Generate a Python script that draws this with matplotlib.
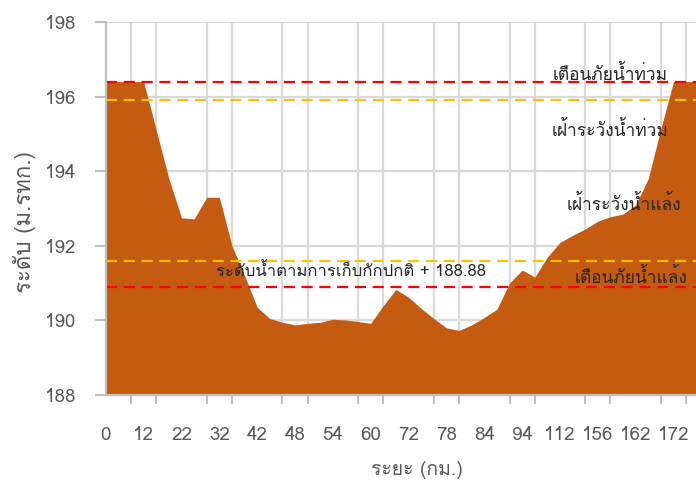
import matplotlib
matplotlib.use('Agg')
import matplotlib.pyplot as plt
from matplotlib import font_manager
from matplotlib.ft2font import FT2Font
from matplotlib.ticker import MultipleLocator, FixedLocator

# river bed profile (one value per cross-section)
bed_level = [196.4, 196.4, 196.4, 196.4, 195.1, 193.8, 192.75, 192.72, 193.3, 193.3,
             192.0, 191.2, 190.35, 190.05, 189.95, 189.88, 189.92, 189.95, 190.03, 190.01,
             189.97, 189.92, 190.4, 190.83, 190.62, 190.32, 190.05, 189.8, 189.73, 189.88,
             190.08, 190.3, 191.0, 191.35, 191.16, 191.7, 192.09, 192.28, 192.45, 192.66,
             192.78, 192.85, 193.1, 193.8, 195.15, 196.4, 196.4, 196.4]
tick_labels = ['0', '12', '22', '32', '42', '48', '54', '60', '72', '78', '84', '94',
               '112', '156', '162', '172']

flood_warning = 196.4
flood_watch = 195.9
drought_watch = 191.6
drought_warning = 190.9

lbl_flood_warning = 'เตือนภัยน้ำท่วม'
lbl_flood_watch = 'เฝ้าระวังน้ำท่วม'
lbl_drought_watch = 'เฝ้าระวังน้ำแล้ง'
lbl_drought_warning = 'เตือนภัยน้ำแล้ง'
lbl_normal = 'ระดับน้ำตามการเก็บกักปกติ + 188.88'


def find_thai_font():
    for f in font_manager.fontManager.ttflist:
        try:
            if 0x0E01 in FT2Font(f.fname).get_charmap():
                return f.name
        except Exception:
            pass
    return None


thai = find_thai_font()
fams = [thai, 'DejaVu Sans'] if thai else ['DejaVu Sans']
plt.rcParams['font.family'] = fams

fig = plt.figure(figsize=(6.96, 4.82), dpi=100)
ax = fig.add_axes([0.152, 0.1805, 0.848, 0.774])

x = list(range(len(bed_level)))
ax.fill_between(x, 188, bed_level, color='#C55A11', lw=0, zorder=2)

ax.axhline(flood_warning, color='#FF0000', lw=1.6, ls=(0, (5, 3)), zorder=3)
ax.axhline(flood_watch, color='#FFC000', lw=1.6, ls=(0, (5, 3)), zorder=3)
ax.axhline(drought_watch, color='#FFC000', lw=1.6, ls=(0, (5, 3)), zorder=3)
ax.axhline(drought_warning, color='#FF0000', lw=1.6, ls=(0, (5, 3)), zorder=3)

txt = dict(color='#262626', fontsize=12.5, ha='right', va='center', zorder=4)
ax.text(44.5, 196.6, lbl_flood_warning, **txt)
ax.text(44.6, 195.1, lbl_flood_watch, **txt)
ax.text(45.6, 193.1, lbl_drought_watch, **txt)
ax.text(46.1, 191.15, lbl_drought_warning, **txt)
ax.text(19.4, 191.3, lbl_normal, color='#262626', fontsize=12, ha='center',
        va='center', zorder=4)

ax.set_xlim(0, 46.78)
ax.set_ylim(188, 198)
ax.yaxis.set_major_locator(MultipleLocator(2))

ax.xaxis.set_major_locator(FixedLocator(list(range(0, 46, 3))))
ax.set_xticklabels(tick_labels)
ax.xaxis.set_minor_locator(MultipleLocator(2))

ax.grid(True, which='major', axis='y', color='#d9d9d9', lw=1.6, zorder=1)
ax.grid(True, which='minor', axis='x', color='#d9d9d9', lw=1.6, zorder=1)
ax.set_axisbelow(True)

for s in ['top', 'right']:
    ax.spines[s].set_visible(False)
for s in ['left', 'bottom']:
    ax.spines[s].set_color('#bfbfbf')
    ax.spines[s].set_linewidth(1.6)
    ax.spines[s].set_zorder(5)

ax.tick_params(axis='x', which='major', length=0, pad=22, labelsize=13.5, labelcolor='#595959')
ax.tick_params(axis='x', which='minor', length=6.5, width=1.5, color='#bfbfbf')
ax.tick_params(axis='y', length=8, width=1.5, color='#bfbfbf', pad=13,
               labelsize=13.5, labelcolor='#595959')

# axis titles
fig.text(25 / 696, 1 - 222 / 482, 'ระดับ (ม.รทก.)', fontsize=16, color='#595959',
         rotation=90, ha='center', va='center')
fig.text(417 / 696, 1 - 470 / 482, 'ระยะ (กม.)', fontsize=14, color='#595959',
         ha='center', va='center')

fig.savefig('out.png', dpi=100)
